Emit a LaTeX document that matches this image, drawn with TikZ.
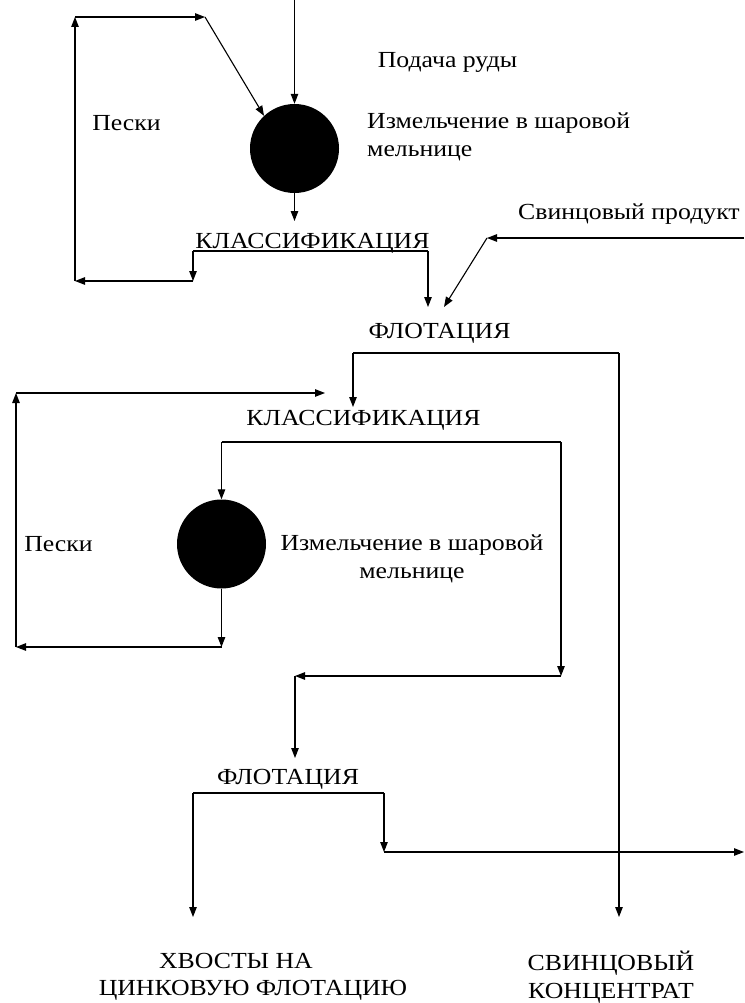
\documentclass[tikz,border=0pt]{standalone}
\usepackage{fontspec}
\setmainfont{Liberation Serif}[FakeStretch=1.12]
\usetikzlibrary{arrows.meta}
\begin{document}
\begin{tikzpicture}[x=1pt,y=-1pt,
  flow/.style={draw, line width=1.1pt, -{Triangle[length=10pt,width=7.5pt]}},
  plain/.style={draw, line width=1.1pt},
  mill/.style={circle, fill=black, minimum size=89pt, inner sep=0pt},
  lbl/.style={font=\fontsize{23}{27.5}\selectfont, inner sep=0pt, align=center},
]
\useasboundingbox (0,0) rectangle (744,1003);
% mills
\node[mill] (m1) at (294.5,148.5) {};
\node[mill] (m2) at (221.5,544) {};
% labels
\node[lbl] (feed) at (447.5,62) {Подача руды};
\node[lbl, anchor=west, align=left] (grind1) at (367,137) {Измельчение в шаровой\\мельнице};
\node[lbl] (sands1) at (126.5,123) {Пески};
\node[lbl] (class1) at (312.5,243) {КЛАССИФИКАЦИЯ};
\node[lbl, anchor=west] (leadprod) at (518,214) {Свинцовый продукт};
\node[lbl] (flot1) at (439.5,333) {ФЛОТАЦИЯ};
\node[lbl] (class2) at (363.5,420) {КЛАССИФИКАЦИЯ};
\node[lbl] (sands2) at (58.5,544) {Пески};
\node[lbl] (grind2) at (412,559) {Измельчение в шаровой\\мельнице};
\node[lbl] (flot2) at (288,779) {ФЛОТАЦИЯ};
\node[lbl] (tails) at (253,977) {ХВОСТЫ НА\hspace*{34pt}\\ЦИНКОВУЮ ФЛОТАЦИЮ};
\node[lbl] (conc) at (611,977) {СВИНЦОВЫЙ\\КОНЦЕНТРАТ};
% coordinates
\coordinate (feedtop) at (294.5,0);
\coordinate (m1out) at (294.5,221);
\coordinate (a1) at (193,251);
\coordinate (a2) at (428,251);
\coordinate (a3) at (193,281);
\coordinate (a4) at (75,281);
\coordinate (a5) at (75,17);
\coordinate (a6) at (205,17);
\coordinate (a7) at (428,307);
\coordinate (b1) at (744,238);
\coordinate (b2) at (487,238);
\coordinate (b3) at (444,307);
\coordinate (f1) at (353,353);
\coordinate (f2) at (619,353);
\coordinate (f3) at (619,917);
\coordinate (f4) at (353,407);
\coordinate (g1) at (16,647);
\coordinate (g2) at (16,393);
\coordinate (g3) at (325,393);
\coordinate (h1) at (221.5,442);
\coordinate (h2) at (561,442);
\coordinate (h3) at (221.5,647);
\coordinate (h4) at (561,676);
\coordinate (h5) at (295,676);
\coordinate (h6) at (295,758);
\coordinate (k1) at (193,793);
\coordinate (k2) at (384,793);
\coordinate (k3) at (193,917);
\coordinate (k4) at (384,852);
\coordinate (k5) at (744,852);
% top section
\draw[flow] (feedtop) -- (m1.north);
\draw[flow] (m1.south) -- (m1out);
\draw[plain] (a1) -- (a2);
\draw[flow] (a1) -- (a3);
\draw[flow] (a3) -- (a4);
\draw[flow] (a4) -- (a5);
\draw[flow] (a5) -- (a6);
\draw[flow] (a6) -- (m1.133);
\draw[flow] (a2) -- (a7);
\draw[flow] (b1) -- (b2);
\draw[flow] (b2) -- (b3);
% after first flotation
\draw[plain] (f1) -- (f2);
\draw[flow] (f2) -- (f3);
\draw[flow] (f1) -- (f4);
% second classification loop
\draw[plain] (h1) -- (h2);
\draw[flow] (h1) -- (m2.north);
\draw[flow] (m2.south) -- (h3);
\draw[flow] (h3) -- (g1);
\draw[flow] (g1) -- (g2);
\draw[flow] (g2) -- (g3);
\draw[flow] (h2) -- (h4);
\draw[flow] (h4) -- (h5);
\draw[flow] (h5) -- (h6);
% second flotation
\draw[plain] (k1) -- (k2);
\draw[flow] (k1) -- (k3);
\draw[flow] (k2) -- (k4);
\draw[flow] (k4) -- (k5);
\end{tikzpicture}
\end{document}
